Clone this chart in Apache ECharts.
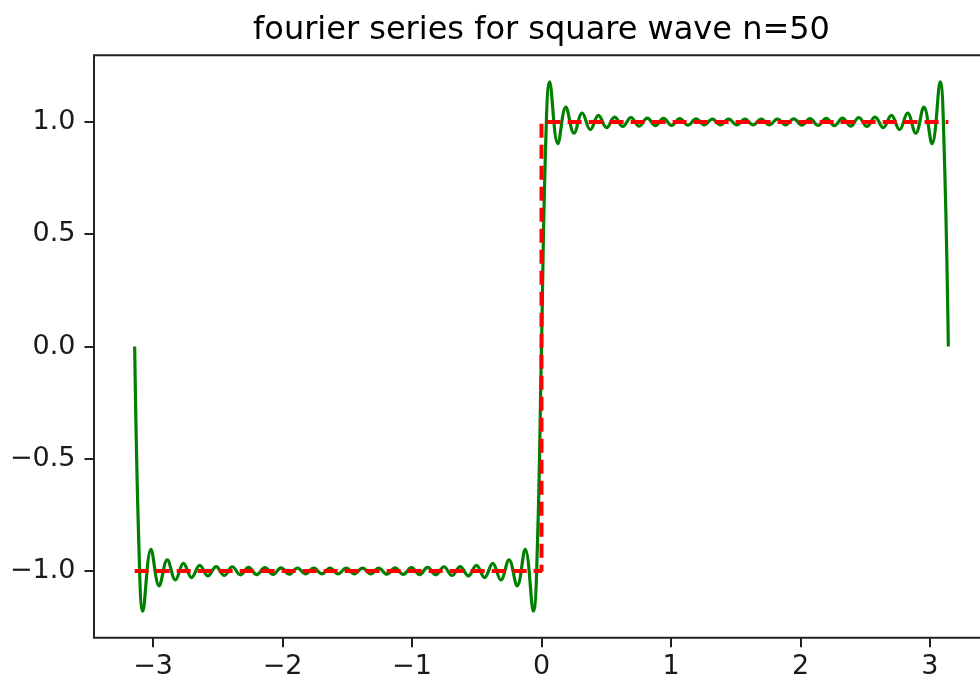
<!DOCTYPE html>
<html>
<head>
<meta charset="utf-8">
<title>fourier series for square wave n=50</title>
<script src="https://cdn.jsdelivr.net/npm/echarts@6/dist/echarts.min.js"></script>
<style>
  html, body { margin: 0; padding: 0; background: #ffffff; }
  #chart { width: 980px; height: 682px; }
</style>
</head>
<body>
<div id="chart"></div>
<script>
// Partial Fourier sum: turning points of the ripple, plus the zero crossings
const partialSumX = [
  -3.142, -3.110,
  -3.079, -3.016, -2.953, -2.890, -2.827, -2.765, -2.702, -2.639, -2.576, -2.513,
  -2.450, -2.388, -2.325, -2.262, -2.199, -2.136, -2.073, -2.011, -1.948, -1.885,
  -1.822, -1.759, -1.696, -1.634, -1.571, -1.508, -1.445, -1.382, -1.319, -1.257,
  -1.194, -1.131, -1.068, -1.005, -0.942, -0.880, -0.817, -0.754, -0.691, -0.628,
  -0.565, -0.503, -0.440, -0.377, -0.314, -0.251, -0.188, -0.126, -0.063,
  -0.031, 0, 0.031,
  0.063, 0.126, 0.188, 0.251, 0.314, 0.377, 0.440, 0.503, 0.565, 0.628,
  0.691, 0.754, 0.817, 0.880, 0.942, 1.005, 1.068, 1.131, 1.194, 1.257,
  1.319, 1.382, 1.445, 1.508, 1.571, 1.634, 1.696, 1.759, 1.822, 1.885,
  1.948, 2.011, 2.073, 2.136, 2.199, 2.262, 2.325, 2.388, 2.450, 2.513,
  2.576, 2.639, 2.702, 2.765, 2.827, 2.890, 2.953, 3.016, 3.079,
  3.110, 3.142
];
const partialSumY = [
  0, -0.873,
  -1.179, -0.903, -1.066, -0.950, -1.040, -0.966, -1.029, -0.975, -1.022, -0.980,
  -1.020, -0.981, -1.017, -0.984, -1.016, -0.985, -1.015, -0.986, -1.014, -0.987,
  -1.013, -0.987, -1.013, -0.987, -1.013, -0.987, -1.013, -0.987, -1.013, -0.987,
  -1.014, -0.986, -1.015, -0.985, -1.016, -0.984, -1.017, -0.981, -1.020, -0.980,
  -1.022, -0.975, -1.029, -0.966, -1.040, -0.950, -1.066, -0.903, -1.179,
  -0.873, 0, 0.873,
  1.179, 0.903, 1.066, 0.950, 1.040, 0.966, 1.029, 0.975, 1.022, 0.980,
  1.020, 0.981, 1.017, 0.984, 1.016, 0.985, 1.015, 0.986, 1.014, 0.987,
  1.013, 0.987, 1.013, 0.987, 1.013, 0.987, 1.013, 0.987, 1.013, 0.987,
  1.014, 0.986, 1.015, 0.985, 1.016, 0.984, 1.017, 0.981, 1.020, 0.980,
  1.022, 0.975, 1.029, 0.966, 1.040, 0.950, 1.066, 0.903, 1.179,
  0.873, 0
];

// Ideal square wave
const squareX = [-3.142, 0, 0, 3.142];
const squareY = [-1, -1, 1, 1];

// Axis ticks
const xTickValues = [-3, -2, -1, 0, 1, 2, 3];
const xTickLabels = ['\u22123', '\u22122', '\u22121', '0', '1', '2', '3'];
const yTickValues = [-1, -0.5, 0, 0.5, 1];
const yTickLabels = ['\u22121.0', '\u22120.5', '0.0', '0.5', '1.0'];

const titleText = 'fourier series for square wave n=50';

function pairs(xs, ys) {
  return xs.map((x, i) => [x, ys[i]]);
}
function labelFor(values, labels) {
  return function (v) {
    const i = values.findIndex(t => Math.abs(t - v) < 1e-9);
    return i >= 0 ? labels[i] : '';
  };
}

const FONT = 'DejaVu Sans';
const INK = '#1a1a1a';

const chart = echarts.init(document.getElementById('chart'), null, { renderer: 'canvas' });
chart.setOption({
  animation: false,
  backgroundColor: '#ffffff',
  title: {
    text: titleText,
    left: 541.5,
    textAlign: 'center',
    top: 15,
    padding: 0,
    textStyle: { fontFamily: FONT, fontSize: 32, fontWeight: 'normal', color: '#000' }
  },
  grid: {
    left: 94,
    top: 55.3,
    width: 895,
    height: 582.4,
    outerBoundsMode: 'none',
    containLabel: false,
    show: true,
    backgroundColor: 'transparent',
    borderColor: '#222',
    borderWidth: 2
  },
  xAxis: {
    type: 'value',
    min: -3.456,
    max: 3.456,
    axisLine: { show: false, onZero: false },
    splitLine: { show: false },
    axisTick: {
      show: true, inside: false, length: 9.5,
      customValues: xTickValues,
      lineStyle: { color: '#222', width: 2 }
    },
    axisLabel: {
      customValues: xTickValues,
      formatter: labelFor(xTickValues, xTickLabels),
      margin: 16,
      fontFamily: FONT, fontSize: 27, color: INK
    }
  },
  yAxis: {
    type: 'value',
    min: -1.297,
    max: 1.297,
    axisLine: { show: false, onZero: false },
    splitLine: { show: false },
    axisTick: {
      show: true, inside: false, length: 9.5,
      customValues: yTickValues,
      lineStyle: { color: '#222', width: 2 }
    },
    axisLabel: {
      customValues: yTickValues,
      formatter: labelFor(yTickValues, yTickLabels),
      margin: 18.5,
      fontFamily: FONT, fontSize: 27, color: INK
    }
  },
  series: [
    {
      name: 'partial sum',
      type: 'line',
      data: pairs(partialSumX, partialSumY),
      showSymbol: false,
      smooth: 0.4,
      lineStyle: { color: '#008000', width: 3.2 },
      z: 2
    },
    {
      name: 'square wave',
      type: 'line',
      data: pairs(squareX, squareY),
      showSymbol: false,
      lineStyle: { color: '#ff0000', width: 4, type: [14, 7] },
      z: 3
    }
  ]
});
</script>
</body>
</html>
